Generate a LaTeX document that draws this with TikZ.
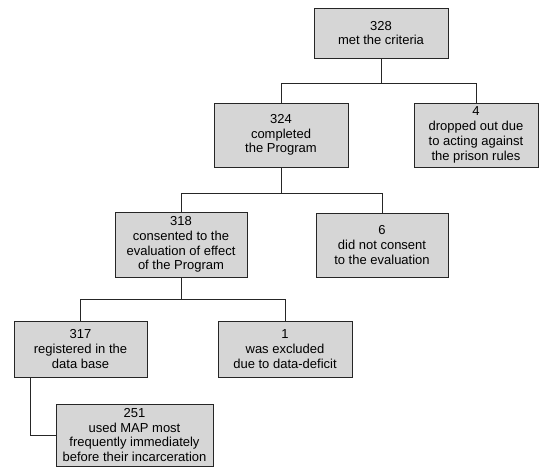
\documentclass[tikz,border=0pt]{standalone}
\usepackage{fontspec}
\setmainfont{Liberation Sans}
\usetikzlibrary{calc}

\begin{document}
\begin{tikzpicture}[
    x=1pt, y=-1pt,
    stage/.style={rectangle, draw=black!85, line width=0.9pt, fill=black!16,
                  minimum width=134pt, minimum height=64pt, inner sep=1pt,
                  align=center, font=\fontsize{13}{14.8}\selectfont},
    link/.style={line width=0.8pt, draw=black!85},
]
\useasboundingbox (0,0) rectangle (539,468);

%% ─── Level 1 ────────────────────────────────────────────────────────────────
\node[stage, minimum height=50pt] (met) at (381,33)
    {328\\met the criteria};

%% ─── Level 2 ────────────────────────────────────────────────────────────────
\node[stage] (done) at (281,135)
    {324\\completed\\the Program};
\node[stage, minimum width=124pt] (drop) at (476,135)
    {4\\dropped out due\\to acting against\\the prison rules};

%% ─── Level 3 ────────────────────────────────────────────────────────────────
\node[stage, minimum width=132pt, minimum height=65pt] (cons) at (181,244.5)
    {318\\consented to the\\evaluation of effect\\of the Program};
\node[stage, minimum width=132pt] (nocons) at (382,245)
    {6\\did not consent\\to the evaluation};

%% ─── Level 4 ────────────────────────────────────────────────────────────────
\node[stage, minimum width=133pt, minimum height=56pt] (reg) at (80.5,349)
    {317\\registered in the\\data base};
\node[stage, minimum height=56pt] (excl) at (285,349)
    {1\\was excluded\\due to data-deficit};

%% ─── Level 5 ────────────────────────────────────────────────────────────────
\node[stage, minimum width=157pt, minimum height=62pt] (map) at (134.5,435)
    {251\\used MAP most\\frequently immediately\\before their incarceration};

%% ─── Connectors ─────────────────────────────────────────────────────────────
\draw[link] (met.south) -- ++(0,25) -| (done.north);
\draw[link] (met.south) -- ++(0,25) -| (drop.north);

\draw[link] (done.south) -- ++(0,26) -| (cons.north);
\draw[link] (done.south) -- ++(0,26) -| (nocons.north);

\draw[link] (cons.south) -- ++(0,22) -| (reg.north);
\draw[link] (cons.south) -- ++(0,22) -| (excl.north);

\coordinate (reg_leg) at ($(reg.south west)+(17,0)$);
\draw[link] (reg_leg) |- (map.west);

\end{tikzpicture}
\end{document}
